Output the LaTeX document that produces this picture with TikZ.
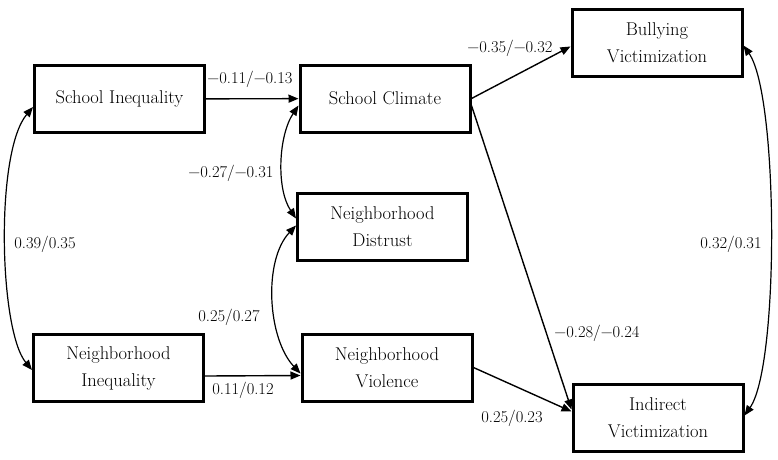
\documentclass[tikz,border=0pt]{standalone}
\usepackage{fontspec}
\usetikzlibrary{arrows.meta}
\begin{document}
\begin{tikzpicture}[x=1pt,y=-1pt,
  box/.style={draw,line width=3pt,minimum width=170pt,minimum height=67pt,inner sep=0pt,align=center,font=\fontsize{18.5}{27}\selectfont},
  lbl/.style={inner sep=0pt,font=\fontsize{16.5}{20}\selectfont},
  arr/.style={line width=1.4pt,-{Triangle[length=10pt,width=8pt]}},
  darr/.style={line width=1.2pt,{Triangle[length=10pt,width=8pt]}-{Triangle[length=10pt,width=8pt]}}]
\useasboundingbox (0,0) rectangle (778,459);
\node[box] (si) at (119.5,99) {School Inequality};
\node[box] (sc) at (385,98.5) {School Climate};
\node[box] (nd) at (382.5,226.5) {Neighborhood\\Distrust};
\node[box] (ni) at (118.5,368) {Neighborhood\\Inequality};
\node[box] (nv) at (387,367.5) {Neighborhood\\Violence};
\node[box] (bv) at (657,42.5) {Bullying\\Victimization};
\node[box] (iv) at (658,417.5) {Indirect\\Victimization};
% directed paths
\draw[arr] (si) -- (sc);
\draw[arr] (sc.east) -- ([yshift=-4pt]bv.west);
\draw[arr] ([yshift=-7pt]sc.east) -- ([yshift=8pt]iv.west);
\draw[arr] (nv.east) -- ([yshift=6pt]iv.west);
\draw[arr] ([yshift=-8pt]ni.east) -- ([yshift=-8pt]nv.west);
% correlations
\draw[darr] ([yshift=-8pt]si.west) .. controls +(-38,45) and +(-33,-40) .. ([yshift=-2pt]ni.west);
\draw[darr] ([yshift=-7pt]sc.west) .. controls +(-20,30) and +(-20,-30) .. ([yshift=8pt]nd.west);
\draw[darr] ([yshift=1pt]nd.west) .. controls +(-33,35) and +(-33,-35) .. ([yshift=-6pt]nv.west);
\draw[darr] ([yshift=-3pt]bv.east) .. controls +(35,50) and +(35,-50) .. ([yshift=2pt]iv.east);
% labels
\node[lbl] (l1) at (250,79) {−0.11/−0.13};
\node[lbl] (l2) at (510,48) {−0.35/−0.32};
\node[lbl] (l3) at (597,333) {−0.28/−0.24};
\node[lbl] (l4) at (512,418) {0.25/0.23};
\node[lbl] (l5) at (243,390) {0.11/0.12};
\node[lbl] (l6) at (45,244) {0.39/0.35};
\node[lbl] (l7) at (231,173) {−0.27/−0.31};
\node[lbl] (l8) at (229,317) {0.25/0.27};
\node[lbl] (l9) at (731,244) {0.32/0.31};
\end{tikzpicture}
\end{document}
